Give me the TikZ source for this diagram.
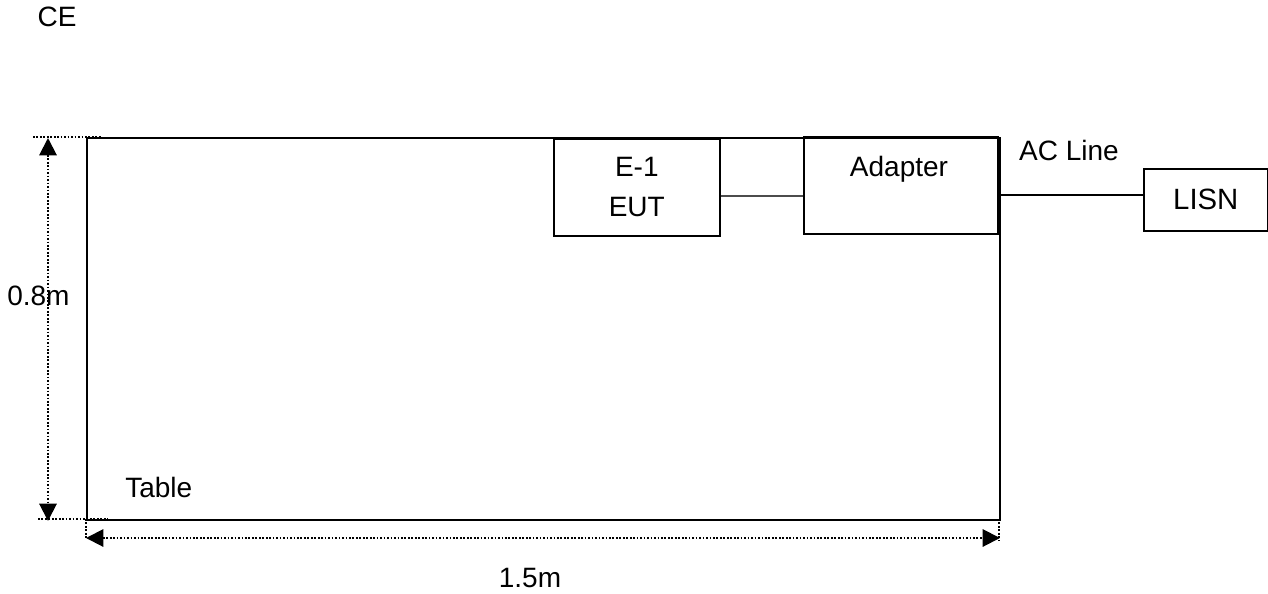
\documentclass[tikz,border=0pt]{standalone}
\usepackage{fontspec}
\setmainfont{Liberation Sans}
\usetikzlibrary{arrows.meta}
\tikzset{
  box/.style={draw, line width=1.2pt, inner sep=0pt, anchor=north west},
  txt/.style={font=\fontsize{21}{30}\selectfont, inner sep=0pt},
  dimline/.style={line width=1.5pt, dash pattern=on 1.3pt off 1.3pt},
  dimarrow/.style={dimline, {Triangle[length=13pt,width=13pt]}-{Triangle[length=13pt,width=13pt]}},
}
\begin{document}
\begin{tikzpicture}[x=0.75pt, y=-0.75pt]
        \useasboundingbox (0,0) rectangle (1268,593);
        % table and units
        \node (table) [box, line width=1.5pt, minimum width=684.75pt, minimum height=286.5pt] at (86,137) {};
        \node (eut) [box, txt, align=center, minimum width=124.5pt, minimum height=72.75pt] at (553,138) {E-1\\EUT};
        \node (adapter) [box, minimum width=145.5pt, minimum height=72.75pt] at (803,136) {};
        \node (lisn) [box, txt, font=\fontsize{22}{30}\selectfont, minimum width=93pt, minimum height=46.5pt] at (1143,168) {LISN};
        \node (adaptertext) [txt] at (899,169) {Adapter};
        \node (tabletext) [txt, anchor=west] at (125,487) {Table};
        \node (title) [txt] at (57,17) {CE};
        \node (acline) [txt] at (1069,150) {AC Line};
        % cables
        \coordinate (dclink) at (0,196);
        \coordinate (aclink) at (0,195);
        \draw [line width=1pt, black!70] (eut.east |- dclink) -- (adapter.west |- dclink);
        \draw [line width=1.3pt] (table.east |- aclink) -- (lisn.west |- aclink);
        % dimensions
        \draw [dimline] (33,137) -- (102,137);
        \draw [dimline] (38,519) -- (108,519);
        \draw [dimline] (86,519) -- (86,538);
        \draw [dimline] (999,519) -- (999,540);
        \coordinate (htop) at (48,138);
        \coordinate (hbot) at (48,521);
        \coordinate (wleft) at (86,538);
        \coordinate (wright) at (1000,538);
        \draw [dimarrow] (htop) -- (hbot);
        \draw [dimarrow] (wleft) -- (wright);
        \node (height) [txt, anchor=west] at (7,296) {0.8m};
        \node (width) [txt] at (530,578) {1.5m};
    \end{tikzpicture}
\end{document}
